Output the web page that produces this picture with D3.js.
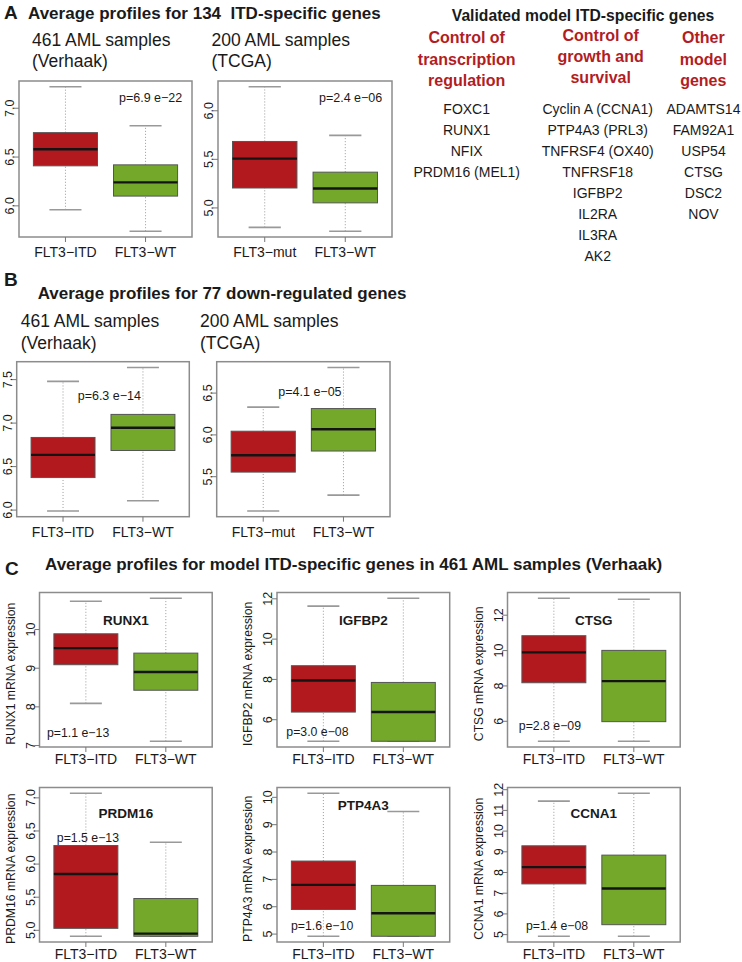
<!DOCTYPE html>
<html><head><meta charset="utf-8">
<script src="https://cdn.jsdelivr.net/npm/d3@7"></script>
<style>
body{margin:0;background:#fff;}
svg text{font-family:"Liberation Sans",Arial,Helvetica,sans-serif;fill:#1a1a1a;}
</style></head>
<body>
<svg id="fig" width="742" height="962"></svg>
<script>
// ---------- data: [lower whisker, Q1, median, Q3, upper whisker] ----------
const groupsITD = ["FLT3\u2212ITD", "FLT3\u2212WT"];
const groupsMut = ["FLT3\u2212mut", "FLT3\u2212WT"];

const upVerhaakITD = [5.96, 6.41, 6.58, 6.75, 7.22];
const upVerhaakWT  = [5.74, 6.10, 6.24, 6.42, 6.82];
const upTcgaMut    = [4.80, 5.205, 5.507, 5.684, 6.247];
const upTcgaWT     = [4.76, 5.052, 5.20, 5.368, 5.747];

const downVerhaakITD = [5.99, 6.374, 6.635, 6.835, 7.48];
const downVerhaakWT  = [6.107, 6.685, 6.946, 7.10, 7.64];
const downTcgaMut    = [5.09, 5.555, 5.756, 6.044, 6.332];
const downTcgaWT     = [5.279, 5.807, 6.068, 6.315, 6.807];

const runx1ITD  = [8.09, 9.09, 9.52, 9.89, 10.73];
const runx1WT   = [7.11, 8.43, 8.90, 9.39, 10.81];
const igfbp2ITD = [4.93, 6.38, 7.95, 8.68, 11.64];
const igfbp2WT  = [4.93, 4.93, 6.38, 7.85, 12.03];
const ctsgITD   = [4.87, 8.18, 9.90, 10.84, 12.96];
const ctsgWT    = [4.87, 5.98, 8.27, 10.01, 12.90];
const prdm16ITD = [4.91, 5.03, 5.85, 6.28, 7.07];
const prdm16WT  = [4.91, 4.91, 4.95, 5.48, 6.33];
const ptp4a3ITD = [4.92, 5.90, 6.80, 7.67, 10.15];
const ptp4a3WT  = [4.92, 4.92, 5.76, 6.78, 9.48];
const ccna1ITD  = [4.92, 7.45, 8.26, 9.29, 11.45];
const ccna1WT   = [4.92, 5.48, 7.23, 8.84, 11.83];

const ticksUpVerhaak = [6.0, 6.5, 7.0];
const ticksUpTcga = [5.0, 5.5, 6.0];
const ticksDownVerhaak = [6.0, 6.5, 7.0, 7.5];
const ticksDownTcga = [5.5, 6.0, 6.5];
const ticksRunx1 = [7, 8, 9, 10];
const ticksIgfbp2 = [6, 8, 10, 12];
const ticksCtsg = [6, 8, 10, 12];
const ticksPrdm16 = [5.0, 5.5, 6.0, 6.5, 7.0];
const ticksPtp4a3 = [5, 6, 7, 8, 9, 10];
const ticksCcna1 = [5, 6, 7, 8, 9, 10, 11, 12];

const pValues = ["p=6.9 e\u221222", "p=2.4 e\u221206", "p=6.3 e\u221214", "p=4.1 e\u221205",
  "p=1.1 e\u221213", "p=3.0 e\u221208", "p=2.8 e\u221209", "p=1.5 e\u221213", "p=1.6 e\u221210", "p=1.4 e\u221208"];
const geneNames = ["RUNX1", "IGFBP2", "CTSG", "PRDM16", "PTP4A3", "CCNA1"];

const colTranscription = ["FOXC1", "RUNX1", "NFIX", "PRDM16 (MEL1)"];
const colGrowth = ["Cyclin A (CCNA1)", "PTP4A3 (PRL3)", "TNFRSF4 (OX40)", "TNFRSF18", "IGFBP2", "IL2RA", "IL3RA", "AK2"];
const colOther = ["ADAMTS14", "FAM92A1", "USP54", "CTSG", "DSC2", "NOV"];

// ---------- styles ----------
const RED = "#b2191e", GREEN = "#73a82b", HEADRED = "#b21d24";
const svg = d3.select("#fig");

function txt(x, y, s, opts = {}) {
  const t = svg.append("text").attr("x", x).attr("y", y).text(s)
    .attr("font-size", opts.size || 14)
    .attr("font-weight", opts.bold ? "bold" : "normal")
    .attr("text-anchor", opts.anchor || "start");
  if (opts.fill) t.style("fill", opts.fill);
  return t;
}

function boxPanel(cfg) {
  const g = svg.append("g");
  const all = cfg.stats.flat();
  const lo = d3.min(all), hi = d3.max(all), r = hi - lo;
  const y = d3.scaleLinear().domain([lo - 0.04 * r, hi + 0.04 * r]).range([cfg.y + cfg.h, cfg.y]);
  const x = d3.scaleLinear().domain([0.42, 2.58]).range([cfg.x, cfg.x + cfg.w]);
  const bw = x(0.4) - x(0);
  cfg.stats.forEach((s, i) => {
    const cx = x(i + 1);
    const [wl, q1, md, q3, wh] = s;
    [[q3, wh], [wl, q1]].forEach(([a, b]) => {
      if (b > a) g.append("line").attr("x1", cx).attr("x2", cx).attr("y1", y(a)).attr("y2", y(b))
        .attr("stroke", "#9a9a9a").attr("stroke-width", 1).attr("stroke-dasharray", "1,2");
    });
    [wl, wh].forEach(v => g.append("line").attr("x1", cx - bw / 2).attr("x2", cx + bw / 2)
      .attr("y1", y(v)).attr("y2", y(v)).attr("stroke", "#999").attr("stroke-width", 1.6));
    g.append("rect").attr("x", cx - bw).attr("width", 2 * bw).attr("y", y(q3)).attr("height", y(q1) - y(q3))
      .attr("fill", i === 0 ? RED : GREEN).attr("stroke", "#555").attr("stroke-width", 1);
    g.append("line").attr("x1", cx - bw).attr("x2", cx + bw).attr("y1", y(md)).attr("y2", y(md))
      .attr("stroke", "#141414").attr("stroke-width", 2.4);
  });
  g.append("rect").attr("x", cfg.x).attr("y", cfg.y).attr("width", cfg.w).attr("height", cfg.h)
    .attr("fill", "none").attr("stroke", "#8c8c8c").attr("stroke-width", 1.5);
  cfg.ticks.forEach(t => {
    g.append("line").attr("x1", cfg.x - 5).attr("x2", cfg.x).attr("y1", y(t)).attr("y2", y(t))
      .attr("stroke", "#777").attr("stroke-width", 1);
    const lx = cfg.x - 9;
    g.append("text").attr("transform", `translate(${lx},${y(t)}) rotate(-90)`)
      .attr("text-anchor", "middle").attr("dy", "0.35em").attr("font-size", cfg.tickSize || 12.5)
      .text(cfg.fmt ? d3.format(cfg.fmt)(t) : t);
  });
  const lblOff = cfg.lblOff || 20;
  cfg.groups.forEach((lab, i) => {
    const cx = x(i + 1);
    g.append("line").attr("x1", cx).attr("x2", cx).attr("y1", cfg.y + cfg.h).attr("y2", cfg.y + cfg.h + 5)
      .attr("stroke", "#777").attr("stroke-width", 1);
    g.append("text").attr("x", cx).attr("y", cfg.y + cfg.h + lblOff).attr("text-anchor", "middle")
      .attr("font-size", 14).text(lab);
  });
  g.append("text").attr("x", cfg.x + cfg.px).attr("y", cfg.y + cfg.py).attr("font-size", cfg.pSize || 12.5).text(cfg.p);
  if (cfg.title) {
    g.append("text").attr("x", cfg.x + cfg.w / 2).attr("y", cfg.y + cfg.ty).attr("text-anchor", "middle")
      .attr("font-size", 13.5).attr("font-weight", "bold").text(cfg.title);
  }
  if (cfg.ylab) {
    const ax = cfg.x - 29, ay = cfg.y + cfg.h / 2 + 4;
    g.append("text").attr("transform", `translate(${ax},${ay}) rotate(-90)`).attr("text-anchor", "middle")
      .attr("dy", "0.35em").attr("font-size", 12.2).text(cfg.ylab);
  }
}

// ---------- panel A ----------
txt(4, 18.5, "A", {size: 19, bold: true});
txt(28, 18.5, "Average profiles for 134\u00a0 ITD-specific genes", {size: 17, bold: true});
txt(32, 46, "461 AML samples", {size: 17.5});
txt(32, 67, "(Verhaak)", {size: 17.5});
txt(211.5, 46, "200 AML samples", {size: 17.5});
txt(211.5, 67, "(TCGA)", {size: 17.5});

boxPanel({x: 19, y: 81, w: 173, h: 156, stats: [upVerhaakITD, upVerhaakWT], groups: groupsITD,
  ticks: ticksUpVerhaak, fmt: ".1f", p: pValues[0], px: 100, py: 21});
boxPanel({x: 218, y: 81, w: 174, h: 156, stats: [upTcgaMut, upTcgaWT], groups: groupsMut,
  ticks: ticksUpTcga, fmt: ".1f", p: pValues[1], px: 101, py: 21});

txt(583, 21, "Validated model ITD-specific genes", {size: 15.7, bold: true, anchor: "middle"});
const headers = [
  {cx: 466.7, y0: 43.3, lines: ["Control of", "transcription", "regulation"], genes: colTranscription, gx: 466.7},
  {cx: 600.7, y0: 40.7, lines: ["Control of", "growth and", "survival"], genes: colGrowth, gx: 597.7},
  {cx: 703.3, y0: 43.3, lines: ["Other", "model", "genes"], genes: colOther, gx: 703.5}
];
headers.forEach(h => {
  h.lines.forEach((l, i) => txt(h.cx, h.y0 + i * 21.2, l, {size: 16, bold: true, anchor: "middle", fill: HEADRED}));
  h.genes.forEach((gn, i) => txt(h.gx, 113.5 + i * 21.1, gn, {size: 14, anchor: "middle"}));
});

// ---------- panel B ----------
txt(4, 286, "B", {size: 19, bold: true});
txt(37.7, 298.5, "Average profiles for 77 down-regulated genes", {size: 17, bold: true});
txt(20.7, 327, "461 AML samples", {size: 17.5});
txt(20.7, 349, "(Verhaak)", {size: 17.5});
txt(200, 327, "200 AML samples", {size: 17.5});
txt(200, 349, "(TCGA)", {size: 17.5});

boxPanel({x: 16.7, y: 361.7, w: 172.6, h: 155, stats: [downVerhaakITD, downVerhaakWT], groups: groupsITD,
  ticks: ticksDownVerhaak, fmt: ".1f", p: pValues[2], px: 61, py: 38.5});
boxPanel({x: 216.7, y: 361.7, w: 173.3, h: 155, stats: [downTcgaMut, downTcgaWT], groups: groupsMut,
  ticks: ticksDownTcga, fmt: ".1f", p: pValues[3], px: 61.6, py: 34.5});

// ---------- panel C ----------
txt(5, 575, "C", {size: 19, bold: true});
txt(45, 570, "Average profiles for model ITD-specific genes in 461 AML samples (Verhaak)", {size: 17, bold: true});

const cStats = [[runx1ITD, runx1WT], [igfbp2ITD, igfbp2WT], [ctsgITD, ctsgWT],
                [prdm16ITD, prdm16WT], [ptp4a3ITD, ptp4a3WT], [ccna1ITD, ccna1WT]];
const cTicks = [ticksRunx1, ticksIgfbp2, ticksCtsg, ticksPrdm16, ticksPtp4a3, ticksCcna1];
const cFmt = [null, null, null, ".1f", null, null];
const cX = [39.5, 277, 507.5];
const cY = [592.5, 787.5];
const cP = [[7.5, 144], [9.3, 143.2], [11.3, 137.5], [17.3, 54], [14, 142], [18.4, 142]];
const cTY = [32.5, 32.5, 32.5, 30.5, 22, 30.5];
cStats.forEach((st, k) => {
  boxPanel({x: cX[k % 3], y: cY[Math.floor(k / 3)], w: 172.7, h: 154.5, stats: st, groups: groupsITD,
    ticks: cTicks[k], fmt: cFmt[k], p: pValues[4 + k], px: cP[k][0], py: cP[k][1], pSize: 12.3,
    title: geneNames[k], ty: cTY[k], ylab: geneNames[k] + " mRNA expression", tickSize: 12.5, lblOff: 17});
});
</script>
</body></html>
